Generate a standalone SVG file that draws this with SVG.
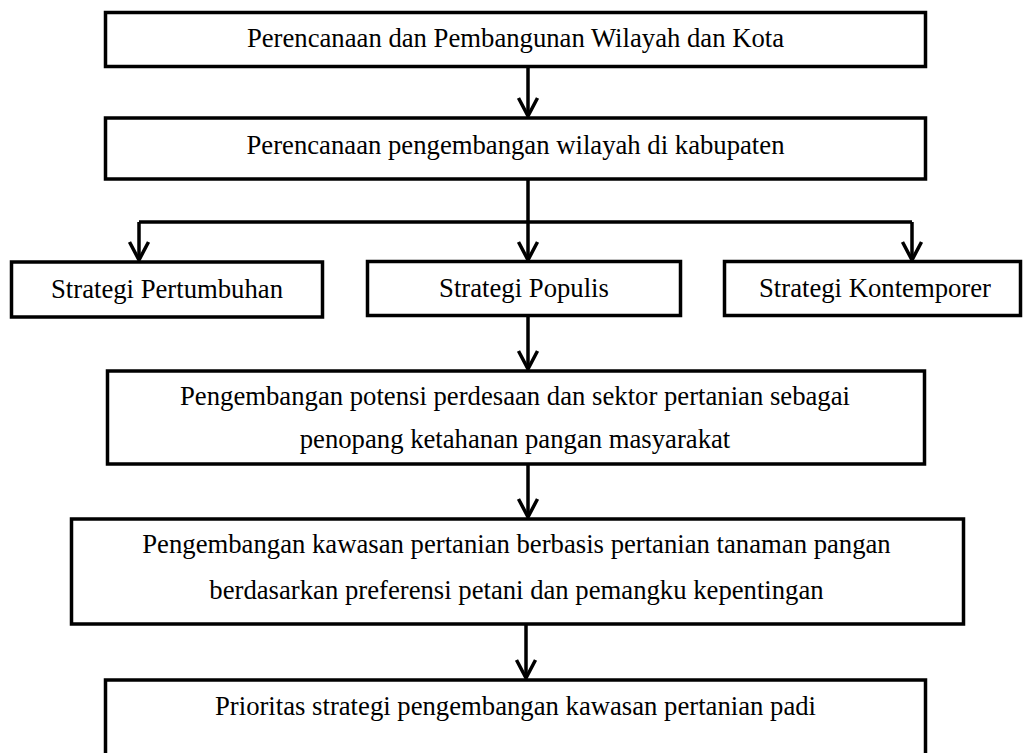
<svg xmlns="http://www.w3.org/2000/svg" width="1025" height="753" viewBox="0 0 1025 753">
  <style>
    .box { fill: #ffffff; stroke: #000000; stroke-width: 3.5; }
    .lbl { font-family: "Liberation Serif", "Times New Roman", serif; font-size: 26.7px; fill: #000000; text-anchor: middle; }
    .link { fill: none; stroke: #000000; stroke-width: 3.5; }
  </style>
  <defs>
    <marker id="arrow" markerUnits="userSpaceOnUse" viewBox="0 0 24 24" markerWidth="24" markerHeight="24" refX="20" refY="12" orient="auto">
      <path d="M2,2.5 L20,12 L2,21.5" fill="none" stroke="#000000" stroke-width="3.5" stroke-linejoin="miter"/>
    </marker>
  </defs>
  <rect width="1025" height="753" fill="#ffffff"/>

  <g id="connectors">
    <line class="link" x1="528" y1="67" x2="528" y2="116" marker-end="url(#arrow)"/>
    <path class="link" d="M528,180 L528,222"/>
    <path class="link" d="M139,222 L912,222"/>
    <line class="link" x1="139" y1="222" x2="139" y2="260" marker-end="url(#arrow)"/>
    <line class="link" x1="528" y1="222" x2="528" y2="260" marker-end="url(#arrow)"/>
    <line class="link" x1="912" y1="222" x2="912" y2="260" marker-end="url(#arrow)"/>
    <line class="link" x1="528" y1="316" x2="528" y2="369" marker-end="url(#arrow)"/>
    <line class="link" x1="528" y1="465" x2="528" y2="517" marker-end="url(#arrow)"/>
    <line class="link" x1="526" y1="625" x2="526" y2="678" marker-end="url(#arrow)"/>
  </g>

  <g id="node-perencanaan-pembangunan">
    <rect class="box" x="105.5" y="12.5" width="820" height="54"/>
    <text class="lbl" x="515.5" y="47">Perencanaan dan Pembangunan Wilayah dan Kota</text>
  </g>

  <g id="node-perencanaan-kabupaten">
    <rect class="box" x="105.5" y="118" width="820" height="61"/>
    <text class="lbl" x="515.5" y="154">Perencanaan pengembangan wilayah di kabupaten</text>
  </g>

  <g id="node-strategi-pertumbuhan">
    <rect class="box" x="11.5" y="262" width="311" height="55"/>
    <text class="lbl" x="167" y="298">Strategi Pertumbuhan</text>
  </g>

  <g id="node-strategi-populis">
    <rect class="box" x="367.5" y="261.5" width="313" height="54"/>
    <text class="lbl" x="524" y="297">Strategi Populis</text>
  </g>

  <g id="node-strategi-kontemporer">
    <rect class="box" x="724.5" y="261.5" width="296" height="54"/>
    <text class="lbl" x="875" y="297">Strategi Kontemporer</text>
  </g>

  <g id="node-potensi-perdesaan">
    <rect class="box" x="107.5" y="371" width="817" height="93"/>
    <text class="lbl" x="515" y="405">Pengembangan potensi perdesaan dan sektor pertanian sebagai</text>
    <text class="lbl" x="515" y="448">penopang ketahanan pangan masyarakat</text>
  </g>

  <g id="node-kawasan-pertanian">
    <rect class="box" x="71.5" y="519" width="892" height="105"/>
    <text class="lbl" x="516.5" y="553">Pengembangan kawasan pertanian berbasis pertanian tanaman pangan</text>
    <text class="lbl" x="516.5" y="599">berdasarkan preferensi petani dan pemangku kepentingan</text>
  </g>

  <g id="node-prioritas-strategi">
    <rect class="box" x="105.5" y="680" width="820" height="90"/>
    <text class="lbl" x="515.5" y="715">Prioritas strategi pengembangan kawasan pertanian padi</text>
  </g>
</svg>
